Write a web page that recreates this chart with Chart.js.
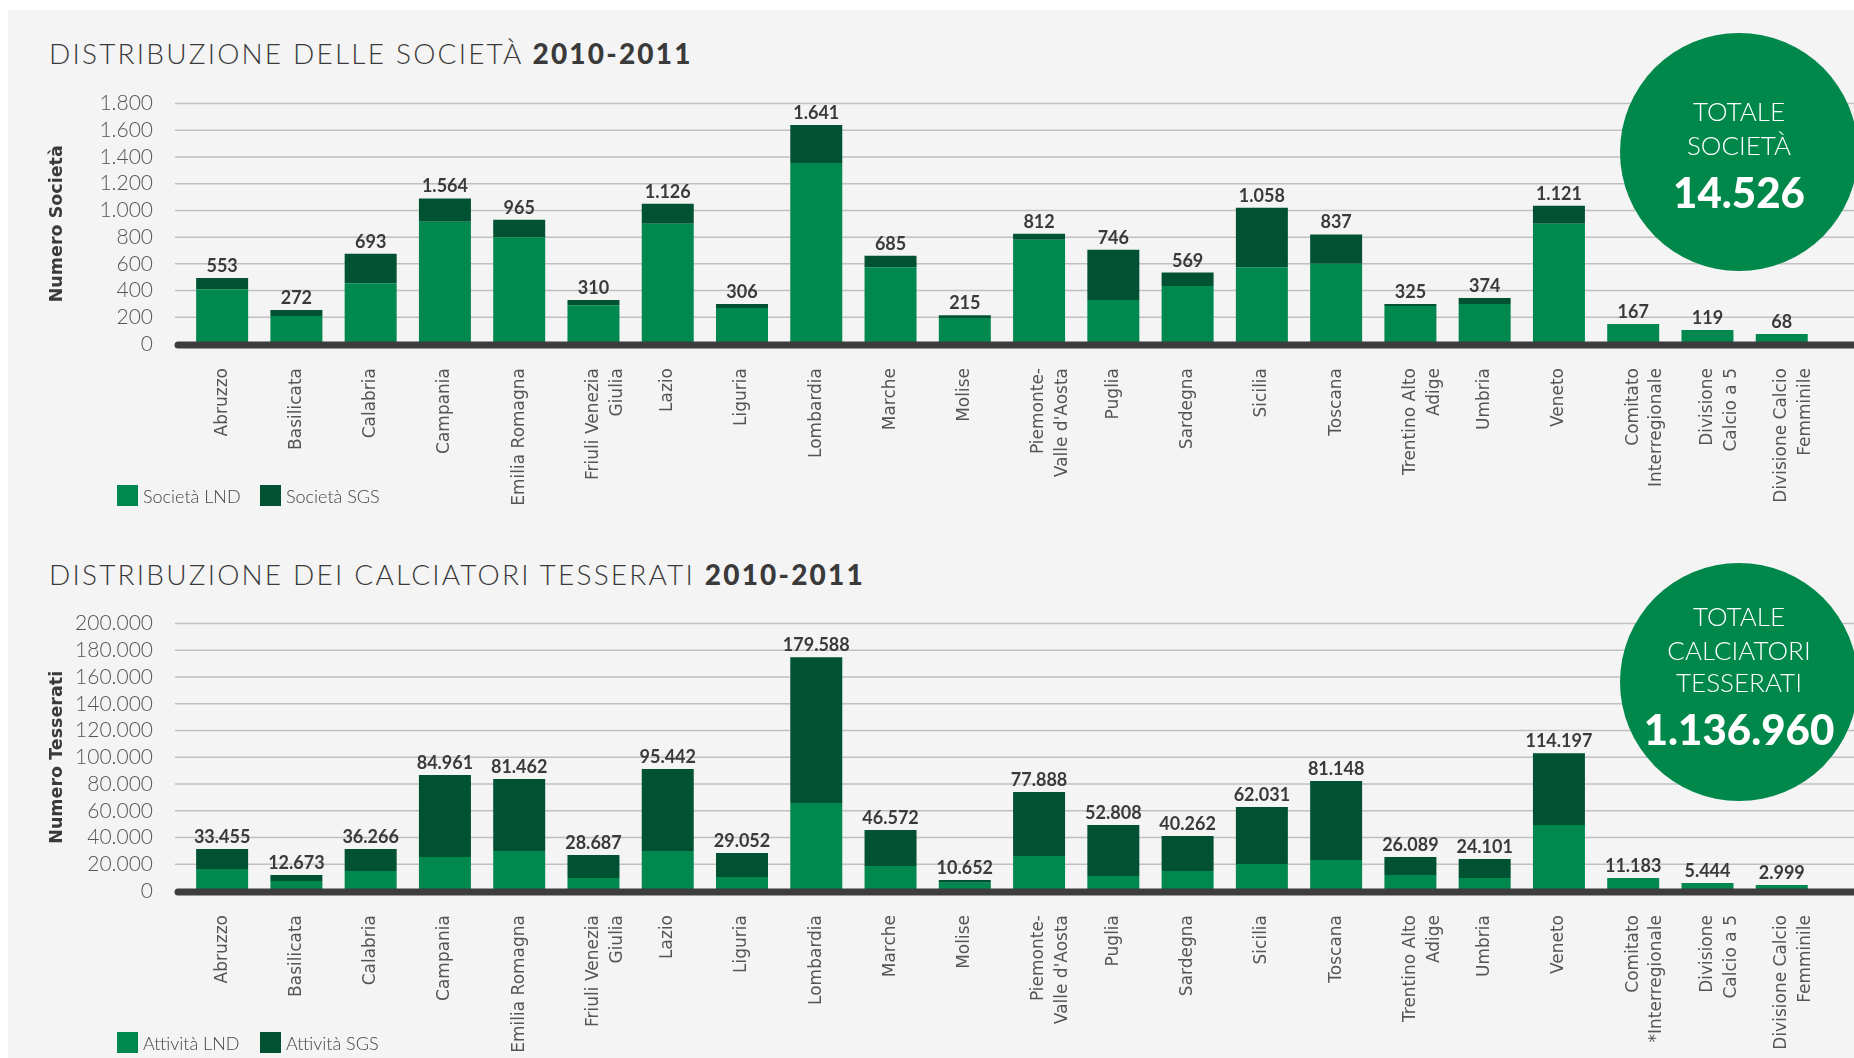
<!DOCTYPE html>
<html lang="it">
<head>
<meta charset="utf-8">
<title>Distribuzione società e calciatori tesserati 2010-2011</title>
<script src="https://cdn.jsdelivr.net/npm/chart.js@4.4.1/dist/chart.umd.min.js"></script>
<style>
  html, body { margin: 0; padding: 0; background: #fff; }
  body { width: 1854px; height: 1058px; position: relative; overflow: hidden; font-family: Lato, sans-serif; }
  #pannello { position: absolute; left: 8px; top: 10px; right: 0; bottom: 0; background: #f4f4f4; }
  .titolo { position: absolute; left: 49px; font-size: 28px; font-weight: 300; letter-spacing: 2.2px; color: #3a3a3a; white-space: nowrap; height: 30px; line-height: 30px; }
  .titolo b { font-weight: 900; }
  canvas { position: absolute; left: 0; }
  .cerchio { position: absolute; left: 1620px; width: 238px; height: 238px; border-radius: 50%; background: #00884b; color: #fff; }
  .cerchio div { position: absolute; left: 0; width: 100%; text-align: center; white-space: nowrap; }
  .riga { font-size: 26px; font-weight: 300; height: 30px; line-height: 30px; }
  .totale { font-size: 42px; font-weight: 900; height: 46px; line-height: 46px; }
  .quadrato { position: absolute; width: 21px; height: 21px; }
  .voce { position: absolute; font-size: 18px; font-weight: 300; color: #444; height: 22px; line-height: 22px; white-space: nowrap; }
</style>
</head>
<body>
<div id="pannello"></div>

<div class="titolo" style="top:38px">DISTRIBUZIONE DELLE SOCIETÀ <b>2010-2011</b></div>
<canvas id="graficoSocieta" width="1854" height="471" style="top:59px"></canvas>
<div class="cerchio" style="top:33px">
  <div class="riga" style="top:63px">TOTALE</div>
  <div class="riga" style="top:97px">SOCIETÀ</div>
  <div class="totale" style="top:136px">14.526</div>
</div>
<div class="quadrato" style="left:117px; top:485px; background:#00884e"></div>
<div class="voce" style="left:143px; top:485px">Società LND</div>
<div class="quadrato" style="left:260px; top:485px; background:#005232"></div>
<div class="voce" style="left:286px; top:485px">Società SGS</div>

<div class="titolo" style="top:559px">DISTRIBUZIONE DEI CALCIATORI TESSERATI <b>2010-2011</b></div>
<canvas id="graficoTesserati" width="1854" height="479" style="top:579px"></canvas>
<div class="cerchio" style="top:563px">
  <div class="riga" style="top:38px">TOTALE</div>
  <div class="riga" style="top:72px">CALCIATORI</div>
  <div class="riga" style="top:104px">TESSERATI</div>
  <div class="totale" style="top:143px">1.136.960</div>
</div>
<div class="quadrato" style="left:117px; top:1032px; background:#00884e"></div>
<div class="voce" style="left:143px; top:1032px">Attività LND</div>
<div class="quadrato" style="left:260px; top:1032px; background:#005232"></div>
<div class="voce" style="left:286px; top:1032px">Attività SGS</div>

<script>
// Categorie (le etichette su due righe sono array)
const regioni = ['Abruzzo', 'Basilicata', 'Calabria', 'Campania', 'Emilia Romagna', ['Friuli Venezia', 'Giulia'],
  'Lazio', 'Liguria', 'Lombardia', 'Marche', 'Molise', ['Piemonte-', "Valle d'Aosta"], 'Puglia', 'Sardegna',
  'Sicilia', 'Toscana', ['Trentino Alto', 'Adige'], 'Umbria', 'Veneto', ['Comitato', 'Interregionale'],
  ['Divisione', 'Calcio a 5'], ['Divisione Calcio', 'Femminile']];
const regioniTesserati = regioni.slice(0, 19).concat([['Comitato', '*Interregionale'],
  ['Divisione', 'Calcio a 5'], ['Divisione Calcio', 'Femminile']]);

const societaLND = [410, 210, 455, 915, 800, 290, 900, 270, 1355, 575, 195, 780, 330, 435, 575, 600, 285, 300, 900, 150, 105, 75];
const societaSGS = [85, 45, 220, 175, 130, 40, 150, 30, 285, 85, 20, 45, 375, 100, 445, 220, 15, 45, 135, 0, 0, 0];
const societaTotali = ['553', '272', '693', '1.564', '965', '310', '1.126', '306', '1.641', '685', '215', '812',
  '746', '569', '1.058', '837', '325', '374', '1.121', '167', '119', '68'];

// Calciatori tesserati
const tesseratiLND = [16500, 7500, 15000, 25500, 30000, 9700, 30000, 10500, 65800, 18700, 6200, 26200, 11200,
  14900, 20200, 23200, 12000, 9700, 49300, 9700, 6000, 4500];
const tesseratiSGS = [14900, 4500, 16400, 61200, 53700, 17200, 61200, 17900, 109000, 26900, 2000, 47800, 38100,
  26200, 42600, 59000, 13400, 14200, 53800, 0, 0, 0];
const tesseratiTotali = ['33.455', '12.673', '36.266', '84.961', '81.462', '28.687', '95.442', '29.052', '179.588',
  '46.572', '10.652', '77.888', '52.808', '40.262', '62.031', '81.148', '26.089', '24.101', '114.197', '11.183',
  '5.444', '2.999'];

const VERDE = '#00884e';
const VERDE_SCURO = '#005232';

// Separatore delle migliaia all'italiana
const formatta = (v) => String(v).replace(/\B(?=(\d{3})+(?!\d))/g, '.');

// Griglia, asse spesso e totali sopra le barre
const pluginDecorazioni = {
  id: 'decorazioni',
  beforeDatasetsDraw(chart) {
    const ctx = chart.ctx;
    const y = chart.scales.y;
    ctx.save();
    ctx.strokeStyle = '#c0c0c0';
    ctx.lineWidth = 1.5;
    y.ticks.forEach(t => {
      const py = y.getPixelForValue(t.value);
      ctx.beginPath();
      ctx.moveTo(chart.chartArea.left - 10, py);
      ctx.lineTo(chart.width, py);
      ctx.stroke();
    });
    ctx.restore();
  },
  afterDatasetsDraw(chart, args, opts) {
    const ctx = chart.ctx;
    const x = chart.scales.x;
    const y = chart.scales.y;
    const y0 = y.getPixelForValue(0) + 1;
    ctx.save();
    ctx.strokeStyle = '#3d3d3f';
    ctx.lineWidth = 7;
    ctx.lineCap = 'round';
    ctx.beginPath();
    ctx.moveTo(chart.chartArea.left - 7, y0);
    ctx.lineTo(chart.width + 10, y0);
    ctx.stroke();

    // etichette dei totali
    const [d1, d2] = chart.data.datasets;
    ctx.fillStyle = '#3a3a3a';
    ctx.font = 'bold 18px Lato';
    ctx.textAlign = 'center';
    ctx.textBaseline = 'alphabetic';
    opts.etichette.forEach((testo, i) => {
      const cima = y.getPixelForValue(d1.data[i] + d2.data[i]);
      ctx.fillText(testo, x.getPixelForValue(i), cima - 6);
    });
    ctx.restore();
  }
};

function creaGrafico(idCanvas, categorie, lnd, sgs, totali, massimo, passo, titoloAsse, altezzaAsseX, nomi) {
  const ctx = document.getElementById(idCanvas).getContext('2d');
  return new Chart(ctx, {
    type: 'bar',
    data: {
      labels: categorie,
      datasets: [
        { label: nomi[0], data: lnd, backgroundColor: VERDE, categoryPercentage: 1, barPercentage: 0.7 },
        { label: nomi[1], data: sgs, backgroundColor: VERDE_SCURO, categoryPercentage: 1, barPercentage: 0.7 }
      ]
    },
    options: {
      responsive: false,
      animation: false,
      devicePixelRatio: 1,
      // il margine alto lo decide l'asse y (metà etichetta + padding dei tick)
      layout: { padding: { top: 0, right: 29, left: 0, bottom: 0 } },
      plugins: {
        legend: { display: false },
        tooltip: { enabled: false },
        decorazioni: { etichette: totali }
      },
      scales: {
        x: {
          stacked: true,
          grid: { display: false, drawTicks: false },
          border: { display: false },
          ticks: {
            autoSkip: false, minRotation: 90, maxRotation: 90, padding: 24,
            color: '#555', font: { family: 'DejaVu Sans', size: 17, lineHeight: 1.4 }
          },
          afterFit(scala) { scala.height = altezzaAsseX; }
        },
        y: {
          stacked: true,
          min: 0,
          max: massimo,
          grid: { display: false, drawTicks: false },
          border: { display: false },
          ticks: {
            autoSkip: false, stepSize: passo, padding: 32, color: '#555',
            font: { family: 'Lato', size: 21, weight: 300 },
            callback: (v) => formatta(v)
          },
          title: {
            display: true, text: titoloAsse, color: '#3a3a3a',
            font: { family: 'DejaVu Sans', size: 17.5, weight: 'bold' },
            padding: { top: 47, bottom: 0 }
          },
          afterFit(scala) { scala.width = 185; }
        }
      }
    },
    plugins: [pluginDecorazioni]
  });
}

function disegna() {
  creaGrafico('graficoSocieta', regioni, societaLND, societaSGS, societaTotali, 1800, 200,
    'Numero Società', 186, ['Società LND', 'Società SGS']);
  creaGrafico('graficoTesserati', regioniTesserati, tesseratiLND, tesseratiSGS, tesseratiTotali, 200000, 20000,
    'Numero Tesserati', 167, ['Attività LND', 'Attività SGS']);
}

Promise.all([
  document.fonts.load('300 21px Lato'),
  document.fonts.load('bold 18px Lato'),
  document.fonts.load('17px "DejaVu Sans"')
]).then(disegna, disegna);
</script>
</body>
</html>
